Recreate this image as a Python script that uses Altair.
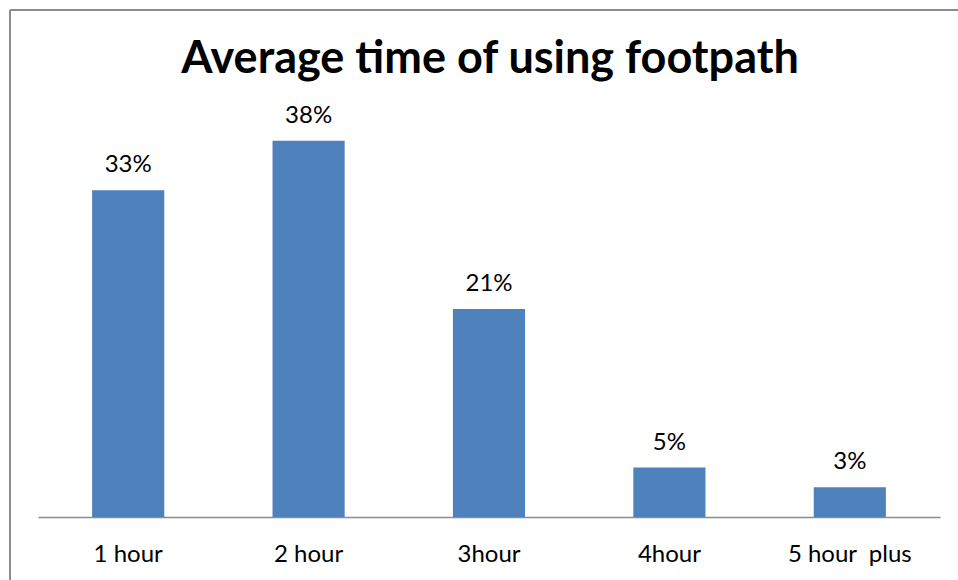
import altair as alt
import pandas as pd

# Survey data: average time spent using the footpath
categories = ["1 hour", "2 hour", "3hour", "4hour", "5 hour \u00a0plus"]
shares = [0.33, 0.38, 0.21, 0.05, 0.03]
labels = ["33%", "38%", "21%", "5%", "3%"]

df = pd.DataFrame({"category": categories, "share": shares, "label": labels})

W, H = 902, 396
FONT = "Lato"
BAR = "#4F81BD"
FRAME = "#8C8C8C"

x_enc = alt.X(
    "category:N",
    sort=categories,
    title=None,
    scale=alt.Scale(paddingInner=0.6, paddingOuter=0.3),
    axis=alt.Axis(
        labelAngle=0,
        ticks=False,
        domainColor=FRAME,
        domainWidth=1.5,
        labelFont=FONT,
        labelFontSize=24,
        labelColor="#000000",
        labelBaseline="alphabetic",
        labelPadding=44,
        grid=False,
    ),
)
y_enc = alt.Y("share:Q", scale=alt.Scale(domain=[0, 0.4]), axis=None)

base = alt.Chart(df)

bars = base.mark_bar(color=BAR).encode(x=x_enc, y=y_enc)

values = base.mark_text(
    font=FONT, fontSize=24, baseline="alphabetic", dy=-18, color="#000000"
).encode(x=alt.X("category:N", sort=categories), y="share:Q", text="label:N")

title = alt.Chart(pd.DataFrame({"t": ["Average time of using footpath"]})).mark_text(
    font=FONT, fontSize=45, fontWeight="bold", baseline="alphabetic", align="center",
    color="#000000",
).encode(x=alt.value(W / 2 + 1), y=alt.value(-48), text="t:N")

# Outer chart frame (top and left edges)
frame_top = alt.Chart(pd.DataFrame({"k": [0]})).mark_rule(
    color=FRAME, strokeWidth=2
).encode(x=alt.value(-28), x2=alt.value(W + 18), y=alt.value(-111))
frame_left = alt.Chart(pd.DataFrame({"k": [0]})).mark_rule(
    color=FRAME, strokeWidth=2
).encode(x=alt.value(-28), y=alt.value(-111), y2=alt.value(H + 63))

chart = (
    alt.layer(bars, values, title, frame_top, frame_left)
    .properties(
        width=W,
        height=H,
        autosize=alt.AutoSizeParams(type="none"),
        padding={"left": 38, "top": 121, "right": 18, "bottom": 63},
        background="white",
    )
    .configure_view(stroke=None)
)

chart.save("out.html", embed_options={"renderer": "svg", "actions": False})
